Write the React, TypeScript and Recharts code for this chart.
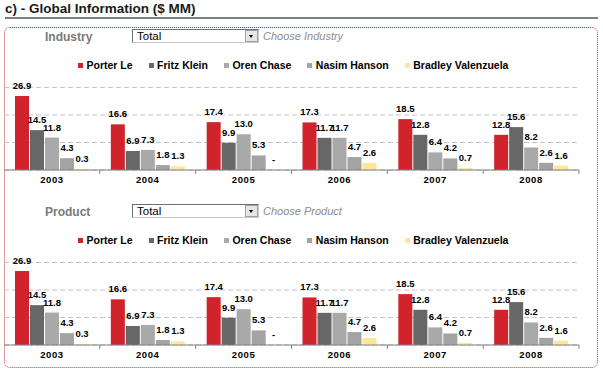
import React from 'react';
import { BarChart, Bar, XAxis, YAxis, CartesianGrid, LabelList } from 'recharts';

const years = ['2003', '2004', '2005', '2006', '2007', '2008'];
const porterLe = [26.9, 16.6, 17.4, 17.3, 18.5, 12.8];
const fritzKlein = [14.5, 6.9, 9.9, 11.7, 12.8, 15.6];
const orenChase = [11.8, 7.3, 13.0, 11.7, 6.4, 8.2];
const nasimHanson = [4.3, 1.8, 5.3, 4.7, 4.2, 2.6];
const bradleyValenzuela = [0.3, 1.3, 0, 2.6, 0.7, 1.6];

const seriesNames = ['Porter Le', 'Fritz Klein', 'Oren Chase', 'Nasim Hanson', 'Bradley Valenzuela'];
const seriesKeys = ['porterLe', 'fritzKlein', 'orenChase', 'nasimHanson', 'bradleyValenzuela'];
const seriesColors = ['#d0232c', '#676767', '#a9a9a9', '#a3a3a3', '#ffe699'];
const yTicks = [0, 10, 20, 30];

const data = years.map((y, i) => ({
  year: y,
  porterLe: porterLe[i],
  fritzKlein: fritzKlein[i],
  orenChase: orenChase[i],
  nasimHanson: nasimHanson[i],
  bradleyValenzuela: bradleyValenzuela[i],
}));

const FONT = '"Liberation Sans", Arial, sans-serif';
const LABEL_OFFSET = 7;

const fmt = (v: any) => (Number(v) === 0 ? '-' : Number(v).toFixed(1));

const ValueLabel = (props: any) => {
  const { x, y, width, height, value } = props;
  if (x == null || y == null || Number(value) === 0) return null;
  const h = Number(height) || 0;
  const topY = h < 0 ? y + h : y;
  return (
    <text x={Number(x) + Number(width) / 2} y={topY - LABEL_OFFSET} textAnchor="middle" fontFamily={FONT} fontWeight="bold" fontSize={9.5} fill="#000">
      {fmt(value)}
    </text>
  );
};

const makeShape = (key: string) => (props: any) => {
  const { x, y, width, height, fill, payload } = props;
  const v = payload ? Number(payload[key]) : NaN;
  return (
    <g>
      {height > 0 && <rect x={x} y={y} width={width} height={height} fill={fill} />}
      {v === 0 && (
        <text x={x + width / 2} y={y + height - LABEL_OFFSET} textAnchor="middle" fontFamily={FONT} fontWeight="bold" fontSize={9.5} fill="#000">
          {fmt(v)}
        </text>
      )}
    </g>
  );
};

const YearTick = (props: any) => {
  const { x, y, payload, width, visibleTicksCount } = props;
  const half = width / visibleTicksCount / 2;
  return (
    <g>
      <line x1={x + half} x2={x + half} y1={y} y2={y + 4} stroke="#808080" strokeWidth={1} />
      <text x={x} y={y + 12.5} textAnchor="middle" fontFamily={FONT} fontWeight="bold" fontSize={9.5} letterSpacing={0.6} fill="#000">
        {payload.value}
      </text>
    </g>
  );
};

const Panel = ({ top, label, placeholder }: { top: number; label: string; placeholder: string }) => (
  <>
    <div style={{ position: 'absolute', left: 45, top: top + 1, fontFamily: FONT, fontWeight: 'bold', fontSize: 12, color: '#7a7a7a', lineHeight: '14px' }}>
      {label}
    </div>
    <div style={{ position: 'absolute', left: 132, top: top, width: 125, height: 12, borderTop: '1px solid #6e6e6e', borderLeft: '1px solid #6e6e6e', borderRight: '1px solid #c8c8c8', borderBottom: '1px solid #c8c8c8', background: '#fff' }}>
      <div style={{ position: 'absolute', left: 4, top: 0, fontFamily: FONT, fontSize: 11.5, lineHeight: '13px', color: '#000' }}>Total</div>
      <div style={{ position: 'absolute', right: 0, top: 0, width: 11, height: 10, background: '#e6e6e6', border: '1px solid #a0a0a0' }}>
        <div style={{ position: 'absolute', left: 3, top: 4, width: 0, height: 0, borderLeft: '2.5px solid transparent', borderRight: '2.5px solid transparent', borderTop: '3px solid #000' }} />
      </div>
    </div>
    <div style={{ position: 'absolute', left: 263, top: top + 1, fontFamily: FONT, fontStyle: 'italic', fontSize: 11, color: '#8c8c8c', lineHeight: '13px' }}>
      {placeholder}
    </div>
    <div style={{ position: 'absolute', left: 78, top: top + 30, display: 'flex', alignItems: 'center', fontFamily: FONT, fontWeight: 'bold', fontSize: 10.5, lineHeight: '12px', color: '#000' }}>
      {seriesNames.map((n, i) => (
        <div key={n} style={{ display: 'flex', alignItems: 'center', marginRight: 16 }}>
          <div style={{ width: 5, height: 5, background: seriesColors[i], marginRight: 3.5 }} />
          <span>{n}</span>
        </div>
      ))}
    </div>
    <div style={{ position: 'absolute', left: 0, top: top + 46 }}>
      <BarChart width={603} height={120} data={data} margin={{ top: 12.5, right: 24, bottom: 0, left: 4 }} barCategoryGap={11} barGap={1}>
        <CartesianGrid vertical={false} stroke="#c4c4c4" strokeDasharray="5 3" />
        <YAxis hide domain={[0, 30]} ticks={yTicks} />
        <XAxis dataKey="year" height={25} axisLine={{ stroke: '#808080' }} tickLine={false} tickSize={0} tickMargin={0} tick={<YearTick />} interval={0} />
        {seriesKeys.map((k, i) => (
          <Bar key={k} dataKey={k} fill={seriesColors[i]} isAnimationActive={false} shape={makeShape(k)}>
            <LabelList dataKey={k} content={<ValueLabel />} />
          </Bar>
        ))}
      </BarChart>
    </div>
  </>
);

export default function App() {
  return (
    <div style={{ position: 'absolute', left: 0, top: 0, width: 603, height: 373, background: '#fff', overflow: 'hidden' }}>
      <div style={{ position: 'absolute', left: 5, top: 1, fontFamily: FONT, fontWeight: 'bold', fontSize: 13.5, color: '#1a1a1a', lineHeight: '16px' }}>
        c) - Global Information ($ MM)
      </div>
      <div style={{ position: 'absolute', left: 5, top: 17, width: 593, height: 2, background: '#7f7f7f' }} />
      <div style={{ position: 'absolute', left: 4, top: 27, width: 592, height: 339, border: '1px dotted #c0393f', borderRadius: 6 }} />
      <Panel top={29} label="Industry" placeholder="Choose Industry" />
      <Panel top={204} label="Product" placeholder="Choose Product" />
    </div>
  );
}
